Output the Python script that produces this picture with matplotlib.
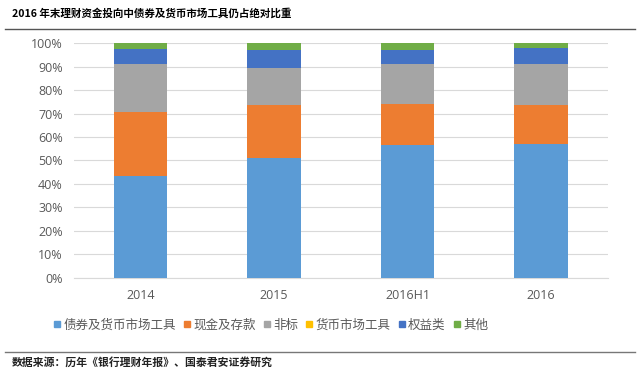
import matplotlib
matplotlib.use("Agg")
import matplotlib.pyplot as plt
from matplotlib.lines import Line2D
import numpy as np

plt.rcParams['font.family'] = ['Noto Sans CJK SC', 'DejaVu Sans']

categories = ["2014", "2015", "2016H1", "2016"]
series_names = ["债券及货币市场工具", "现金及存款", "非标", "货币市场工具", "权益类", "其他"]
bond = [43.5, 51.0, 56.4, 57.0]
cash = [27.3, 22.5, 17.9, 16.5]
nonstd = [20.6, 15.8, 16.7, 17.8]
money_mkt = [0.0, 0.0, 0.0, 0.0]
equity = [6.4, 7.7, 6.3, 6.9]
other = [2.2, 3.0, 2.7, 1.8]
yticks = [0, 10, 20, 30, 40, 50, 60, 70, 80, 90, 100]
title = "2016 年末理财资金投向中债券及货币市场工具仍占绝对比重"
source = "数据来源：历年《银行理财年报》、国泰君安证券研究"

colors = ["#5B9BD5", "#ED7D31", "#A5A5A5", "#FFC000", "#4472C4", "#70AD47"]

fig = plt.figure(figsize=(6.4, 3.71), dpi=100)
ax = fig.add_axes([0.1156, 0.252, 0.834, 0.631])

x = np.arange(len(categories))
data = [bond, cash, nonstd, money_mkt, equity, other]
bottom = np.zeros(len(categories))
handles = []
for vals, name, c in zip(data, series_names, colors):
    v = np.array(vals) / 100.0
    ax.bar(x, v, width=0.4, bottom=bottom, color=c, label=name, zorder=3)
    bottom += v
    handles.append(Line2D([], [], marker='s', linestyle='none', markersize=5,
                          markerfacecolor=c, markeredgecolor=c, label=name))

ax.set_xlim(-0.5, len(categories) - 0.5)
ax.set_ylim(0, 1.0)
ax.set_yticks([t / 100 for t in yticks])
ax.set_yticklabels([f"{t}%" for t in yticks], fontsize=9, color="#595959",
                   family=['Open Sans', 'DejaVu Sans'])
ax.set_xticks(x)
ax.set_xticklabels(categories, fontsize=9, color="#595959",
                   family=['Open Sans', 'DejaVu Sans'])
ax.tick_params(axis='both', length=0)
ax.tick_params(axis='x', pad=8)
ax.tick_params(axis='y', pad=8)
ax.yaxis.grid(True, color="#D9D9D9", linewidth=0.8, zorder=0)
for s in ['top', 'right', 'left']:
    ax.spines[s].set_visible(False)
ax.spines['bottom'].set_color("#D9D9D9")
ax.spines['bottom'].set_linewidth(0.8)

fig.legend(handles=handles, loc='center', bbox_to_anchor=(0.422, 1 - 325 / 371),
           ncol=6, frameon=False, fontsize=9, handletextpad=0.1,
           columnspacing=0.5, handlelength=0.8, labelcolor="#595959")

fig.text(12 / 640, 1 - 13 / 371, title, fontsize=7.6, fontweight='bold',
         ha='left', va='center', color="#000000")
fig.add_artist(Line2D([5 / 640, 635 / 640], [1 - 29 / 371, 1 - 29 / 371],
                      color="#555555", linewidth=1.0))
fig.add_artist(Line2D([5 / 640, 635 / 640], [1 - 352 / 371, 1 - 352 / 371],
                      color="#777777", linewidth=1.0))
fig.text(12 / 640, 1 - 362 / 371, source, fontsize=7.8, fontweight='bold',
         ha='left', va='center', color="#222222")

fig.savefig("out.png", dpi=100)
